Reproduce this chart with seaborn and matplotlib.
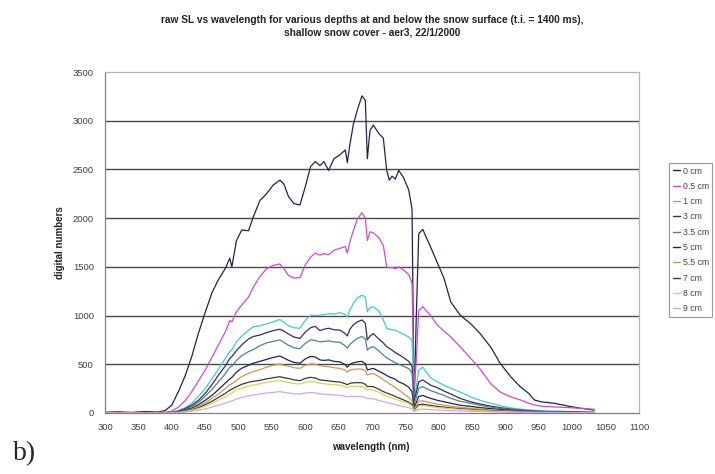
import matplotlib
matplotlib.use("Agg")
import matplotlib.pyplot as plt
from matplotlib.lines import Line2D
import pandas as pd
import seaborn as sns

# Wavelength samples (nm) shared by all depth profiles
wavelength = [300, 320, 340, 360, 380, 390,
              400, 410, 420, 430, 440, 450, 460, 470, 480,
              487, 490, 497, 505, 515, 522, 532, 542, 552, 562,
              568, 575, 583, 592, 600, 608, 615, 622, 628, 635,
              643, 652, 660, 663, 667, 672, 678, 685, 690, 693,
              697, 702, 710, 717, 722, 726, 730, 735, 740, 747,
              755, 760, 763, 766, 770, 776, 788, 798, 808, 818,
              832, 848, 862, 878, 892, 908, 922, 935, 943, 953,
              973, 993, 1013, 1033]

depth_labels = ["0 cm", "0.5 cm", "1 cm", "3 cm", "3.5 cm",
                "5 cm", "5.5 cm", "7 cm", "8 cm", "9 cm"]

# Raw signal level (digital numbers) for each depth
dn_0cm = [8, 12, 6, 15, 10, 25,
          80, 220, 380, 580, 820, 1030, 1230, 1370, 1480,
          1590, 1500, 1770, 1880, 1870, 2010, 2180, 2250, 2340, 2390,
          2350, 2220, 2150, 2135, 2320, 2530, 2580, 2540, 2580, 2490,
          2610, 2650, 2700, 2570, 2760, 2960, 3110, 3255, 3210, 2610,
          2900, 2955, 2870, 2820, 2490, 2390, 2430, 2400, 2490, 2420,
          2290, 2090, 60, 900, 1840, 1885, 1700, 1540, 1380, 1140,
          1005, 915, 815, 675, 510, 370, 270, 200, 135, 115,
          100, 72, 48, 30]
dn_05cm = [3, 5, 2, 6, 4, 8,
           20, 60, 125, 220, 330, 440, 570, 700, 830,
           950, 935, 1040, 1110, 1190, 1290, 1400, 1480, 1515, 1530,
           1480, 1410, 1385, 1390, 1520, 1600, 1640, 1620, 1635, 1625,
           1670, 1690, 1710, 1640, 1760, 1870, 1990, 2055, 2000, 1770,
           1860, 1850, 1800, 1720, 1500, 1490, 1495, 1480, 1500, 1470,
           1420, 1330, 250, 500, 1050, 1090, 1000, 900, 840, 780,
           680, 560, 450, 300, 215, 165, 135, 100, 82, 70,
           62, 56, 48, 38]
dn_1cm = [0, 2, 0, 3, 1, 2,
          5, 25, 55, 100, 170, 250, 350, 450, 560,
          630, 650, 730, 790, 850, 885, 895, 915, 935, 960,
          930, 895, 875, 870, 950, 1005, 1000, 1005, 1010, 1020,
          1015, 1030, 1010, 985, 1060, 1125, 1180, 1210, 1190, 1040,
          1080, 1090, 1050, 955, 870, 860, 855, 850, 830, 810,
          780, 745, 120, 250, 440, 470, 360, 320, 285, 255,
          215, 165, 130, 100, 75, 52, 40, 32, 28, 24,
          20, 16, 12, 8]
dn_3cm = [1, 0, 2, 1, 0, 3,
          5, 20, 45, 80, 130, 200, 290, 390, 480,
          560, 580, 640, 700, 760, 785, 800, 825, 845, 860,
          840, 810, 780, 765, 830, 875, 890, 845, 860, 870,
          855, 850, 815, 790, 860, 905, 935, 955, 920, 750,
          790, 815, 760, 720, 680, 665, 645, 620, 600, 570,
          530, 480, 130, 200, 320, 340, 285, 260, 225, 195,
          150, 115, 92, 70, 55, 40, 30, 22, 20, 16,
          13, 10, 8, 6]
dn_35cm = [0, 1, 0, 1, 2, 1,
           4, 15, 35, 65, 110, 170, 240, 320, 400,
           470, 480, 540, 590, 630, 650, 690, 720, 735, 750,
           725, 695, 670, 660, 715, 750, 745, 730, 735, 740,
           730, 725, 690, 665, 705, 735, 765, 785, 760, 645,
           670, 680, 640, 595, 565, 550, 535, 515, 500, 480,
           455, 410, 90, 150, 255, 270, 230, 205, 180, 150,
           120, 100, 78, 60, 48, 36, 28, 22, 18, 15,
           12, 9, 7, 5]
dn_5cm = [1, 0, 1, 0, 1, 2,
          3, 12, 28, 50, 85, 130, 180, 240, 305,
          350, 365, 420, 460, 490, 510, 530, 550, 570, 585,
          565, 540, 520, 510, 555, 580, 575, 545, 540, 545,
          530, 525, 495, 470, 500, 515, 525, 530, 505, 440,
          450, 458, 430, 405, 385, 370, 360, 345, 320, 300,
          265, 215, 60, 100, 170, 180, 150, 130, 115, 100,
          80, 68, 55, 45, 36, 28, 22, 18, 15, 13,
          10, 8, 6, 4]
dn_55cm = [0, 1, 0, 1, 0, 1,
           2, 10, 22, 40, 70, 105, 150, 195, 250,
           290, 300, 335, 375, 405, 425, 445, 470, 490, 503,
           490, 480, 465, 458, 490, 503, 500, 485, 480, 475,
           465, 458, 440, 420, 440, 448, 452, 450, 430, 390,
           400, 405, 375, 340, 320, 300, 285, 260, 235, 200,
           160, 120, 40, 70, 120, 125, 105, 92, 80, 70,
           58, 48, 40, 32, 26, 20, 16, 13, 11, 10,
           8, 6, 5, 3]
dn_7cm = [0, 0, 1, 0, 1, 1,
          2, 8, 18, 33, 55, 85, 120, 160, 200,
          235, 245, 270, 295, 315, 325, 335, 350, 362, 373,
          362, 355, 340, 332, 355, 366, 360, 340, 335, 330,
          322, 318, 300, 290, 305, 310, 312, 310, 295, 270,
          272, 270, 245, 220, 205, 195, 185, 170, 155, 135,
          112, 85, 30, 50, 85, 90, 78, 68, 60, 52,
          44, 36, 30, 24, 20, 16, 12, 10, 9, 8,
          6, 5, 4, 3]
dn_8cm = [0, 1, 0, 0, 1, 0,
          1, 6, 15, 28, 45, 70, 100, 132, 165,
          195, 205, 235, 255, 275, 288, 300, 315, 325, 333,
          322, 312, 302, 298, 315, 322, 318, 305, 300, 295,
          290, 286, 270, 262, 272, 275, 272, 270, 255, 236,
          240, 236, 215, 187, 175, 165, 155, 142, 130, 115,
          98, 70, 25, 40, 70, 75, 65, 56, 50, 44,
          37, 30, 25, 20, 16, 13, 10, 8, 7, 6,
          5, 4, 3, 2]
dn_9cm = [0, 0, 0, 1, 0, 0,
          1, 4, 10, 18, 28, 42, 60, 80, 100,
          118, 122, 145, 160, 175, 185, 195, 205, 212, 219,
          212, 205, 198, 195, 205, 210, 206, 196, 193, 190,
          184, 181, 172, 166, 170, 170, 169, 168, 158, 147,
          148, 146, 130, 116, 108, 100, 94, 84, 76, 66,
          55, 40, 15, 22, 38, 40, 35, 30, 27, 24,
          20, 17, 14, 11, 9, 7, 6, 5, 4, 4,
          3, 2, 2, 1]

line_colors = ["#23234a", "#c84ec8", "#46c8cc", "#3c2a60", "#4f8486",
               "#22224e", "#c8985a", "#3a3a3a", "#d8d060", "#d6a8de"]

profiles = [dn_0cm, dn_05cm, dn_1cm, dn_3cm, dn_35cm,
            dn_5cm, dn_55cm, dn_7cm, dn_8cm, dn_9cm]

df = pd.concat(
    [pd.DataFrame({"wavelength": wavelength, "dn": vals, "depth": lab})
     for lab, vals in zip(depth_labels, profiles)],
    ignore_index=True)

sns.set_style("white")
plt.rcParams["font.family"] = ["Liberation Sans", "DejaVu Sans"]

W, H = 715, 474
fig = plt.figure(figsize=(W / 100, H / 100), dpi=100)
ax = fig.add_axes([105 / W, 61 / H, 534 / W, 341 / H])

palette = dict(zip(depth_labels, line_colors))
sns.lineplot(data=df, x="wavelength", y="dn", hue="depth",
             hue_order=depth_labels, palette=palette, linewidth=0.9,
             estimator=None, sort=False, legend=False, ax=ax)

ax.set_xlim(300, 1100)
ax.set_ylim(0, 3500)
ax.set_xticks(range(300, 1101, 50))
ax.set_yticks(range(0, 3501, 500))
ax.set_xlabel("")
ax.set_ylabel("")

# horizontal gridlines
for yv in range(500, 3500, 500):
    ax.axhline(yv, color="#4a4a4a", linewidth=1.0, zorder=0.5)

for side in ["left", "bottom"]:
    ax.spines[side].set_color("#808080")
    ax.spines[side].set_linewidth(0.9)
for side in ["top", "right"]:
    ax.spines[side].set_color("#b4b4b4")
    ax.spines[side].set_linewidth(0.9)

ax.tick_params(axis="y", direction="out", length=5, width=0.8,
               color="#808080", labelsize=6.8, labelcolor="#404040", pad=3)
ax.tick_params(axis="x", direction="inout", length=5, width=0.8,
               color="#808080", labelsize=6.8, labelcolor="#404040", pad=5)

fig.text(372 / W, 1 - 15 / H,
         "raw SL vs wavelength for various depths at and below the snow surface (t.i. = 1400 ms),\n"
         "shallow snow cover - aer3, 22/1/2000",
         ha="center", va="top", fontsize=7.3, fontweight="bold",
         color="#222222", linespacing=1.3)
fig.text(371 / W, 1 - 447 / H, "wavelength (nm)", ha="center", va="center",
         fontsize=7, fontweight="bold", color="#222222")
fig.text(60 / W, 1 - 243 / H, "digital numbers", ha="center", va="center",
         rotation=90, fontsize=7, fontweight="bold", color="#222222")

handles = [Line2D([0], [0], color=c, linewidth=1.0) for c in line_colors]
leg = fig.legend(handles, depth_labels, loc="upper left",
                 bbox_to_anchor=(669 / W, 1 - 163 / H),
                 fontsize=6.3, frameon=True, fancybox=False,
                 handlelength=0.9, handletextpad=0.25, labelspacing=0.72,
                 borderpad=0.4, borderaxespad=0)
leg.get_frame().set_edgecolor("#808080")
leg.get_frame().set_linewidth(0.8)
for t in leg.get_texts():
    t.set_color("#444444")

fig.text(13 / W, 1 - 454 / H, "b)", ha="left", va="center",
         fontsize=20, family=["Liberation Serif", "DejaVu Serif"])

fig.savefig("out.png", dpi=100)
